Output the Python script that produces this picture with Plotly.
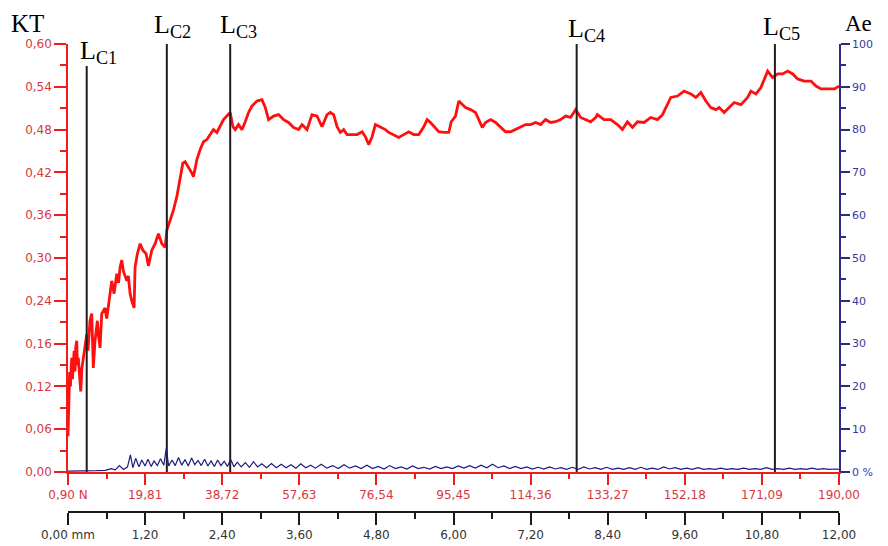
import plotly.graph_objects as go

# ---- data ----
kt_load = [0.9, 1.1, 1.3, 1.5, 1.81, 2.0, 2.2, 2.4, 2.62, 2.8, 3.04, 3.2, 3.43, 3.7, 4.02, 4.3, 4.66, 5.0,
           5.49, 5.8, 6.3, 6.72, 7.11, 7.53, 8.1, 8.4, 8.76, 9.18, 9.99, 10.4, 10.8, 11.21, 11.63, 12.2,
           12.86, 13.3, 13.67, 14.09, 14.48, 15.32, 15.7, 16.13, 16.54, 17.11, 17.35, 17.92, 18.58, 19.25,
           20.06, 20.62, 21.46, 22.27, 23.08, 23.91, 24.72, 25.14, 25.95, 26.76, 27.59, 28.41, 29.07, 29.63,
           30.44, 31.28, 31.67, 32.51, 33.32, 34.13, 34.96, 35.77, 36.58, 37.42, 38.23, 39.04, 39.87, 40.68,
           41.35, 41.91, 42.72, 43.56, 44.37, 45.18, 46.01, 47.24, 48.47, 49.28, 50.09, 51.32, 52.55, 53.77,
           55.0, 56.23, 57.46, 58.29, 59.52, 60.75, 61.98, 63.2, 64.43, 65.24, 66.05, 66.89, 67.7, 68.51,
           69.34, 70.57, 71.8, 73.03, 73.84, 74.65, 75.48, 76.29, 77.52, 78.75, 79.56, 80.79, 82.02, 83.24,
           84.47, 85.7, 86.93, 88.16, 88.99, 89.8, 91.03, 91.84, 93.07, 94.3, 94.89, 95.94, 96.75, 97.59,
           98.4, 99.63, 100.85, 101.66, 102.5, 103.31, 104.54, 105.76, 106.99, 108.22, 109.45, 110.68,
           111.9, 113.13, 114.36, 115.59, 116.82, 118.04, 119.27, 120.5, 121.73, 122.95, 124.18, 125.41,
           126.64, 127.87, 129.09, 130.32, 130.74, 132.36, 134.01, 135.65, 136.88, 138.11, 139.34, 140.57,
           142.19, 143.83, 145.48, 146.71, 147.52, 148.75, 150.39, 152.01, 153.66, 154.89, 156.12, 157.34,
           158.57, 159.8, 160.61, 161.84, 163.06, 164.29, 165.94, 167.58, 168.39, 169.62, 170.85, 171.66,
           172.5, 173.72, 174.95, 176.18, 177.41, 178.64, 179.86, 181.48, 183.13, 184.36, 185.59, 187.23,
           188.87, 190.0]
kt_value = [0.05, 0.09, 0.14, 0.12, 0.16, 0.13, 0.151, 0.17, 0.141, 0.175, 0.184, 0.15, 0.16, 0.13, 0.113,
            0.145, 0.16, 0.18, 0.193, 0.17, 0.212, 0.222, 0.146, 0.184, 0.212, 0.19, 0.174, 0.222, 0.23,
            0.215, 0.236, 0.25, 0.268, 0.25, 0.278, 0.265, 0.287, 0.297, 0.282, 0.268, 0.275, 0.25, 0.24,
            0.23, 0.287, 0.306, 0.32, 0.311, 0.306, 0.289, 0.311, 0.32, 0.334, 0.32, 0.315, 0.339, 0.353,
            0.367, 0.386, 0.41, 0.433, 0.435, 0.428, 0.419, 0.414, 0.438, 0.452, 0.463, 0.466, 0.473, 0.48,
            0.476, 0.484, 0.494, 0.499, 0.504, 0.484, 0.48, 0.487, 0.48, 0.491, 0.504, 0.513, 0.52, 0.522,
            0.511, 0.494, 0.499, 0.501, 0.494, 0.49, 0.483, 0.48, 0.487, 0.48, 0.501, 0.499, 0.484, 0.501,
            0.504, 0.501, 0.484, 0.476, 0.48, 0.473, 0.473, 0.473, 0.477, 0.47, 0.459, 0.47, 0.487, 0.483,
            0.48, 0.476, 0.473, 0.469, 0.473, 0.477, 0.473, 0.473, 0.484, 0.494, 0.49, 0.483, 0.477, 0.476,
            0.476, 0.491, 0.499, 0.52, 0.515, 0.511, 0.508, 0.504, 0.494, 0.483, 0.49, 0.494, 0.49, 0.483,
            0.477, 0.477, 0.48, 0.483, 0.487, 0.487, 0.49, 0.487, 0.494, 0.49, 0.491, 0.494, 0.499, 0.497,
            0.508, 0.497, 0.494, 0.491, 0.497, 0.501, 0.494, 0.494, 0.487, 0.48, 0.491, 0.483, 0.491, 0.49,
            0.497, 0.494, 0.501, 0.511, 0.525, 0.527, 0.534, 0.53, 0.525, 0.532, 0.52, 0.511, 0.508, 0.511,
            0.504, 0.511, 0.518, 0.515, 0.525, 0.534, 0.53, 0.539, 0.551, 0.562, 0.553, 0.558, 0.558, 0.562,
            0.558, 0.551, 0.548, 0.548, 0.541, 0.537, 0.537, 0.537, 0.541]

ae_load = [0.9, 5.0, 8.0, 10.0, 11.5, 12.5, 13.5, 14.5, 15.5, 16.2, 16.8, 17.5, 18.3, 19.0, 19.8, 20.5,
           21.3, 22.0, 22.8, 23.6, 24.4, 25.0, 25.6, 26.4, 27.2, 28.0, 28.8, 29.6, 30.4, 31.2, 32.0, 32.8,
           33.6, 34.4, 35.2, 36.0, 36.8, 37.6, 38.4, 39.2, 40.0, 40.8, 41.6, 42.4, 43.4, 44.4, 45.4, 46.4,
           47.4, 48.4, 49.6, 50.8, 52.0, 53.2, 54.4, 55.6, 56.8, 58.0, 59.2, 60.4, 61.6, 63.0, 64.4, 65.8,
           67.2, 68.6, 70.0, 71.4, 72.8, 74.2, 75.6, 77.0, 78.4, 79.8, 81.2, 82.6, 84.0, 85.4, 86.8, 88.2,
           89.6, 91.0, 92.4, 93.8, 95.2, 96.6, 98.0, 99.4, 100.8, 102.2, 103.6, 105.0, 106.4, 107.8, 109.2,
           110.6, 112.0, 113.4, 114.8, 116.2, 117.6, 119.0, 120.4, 121.8, 123.2, 124.6, 126.0, 127.4, 128.8,
           130.2, 131.6, 133.0, 134.4, 135.8, 137.2, 138.6, 140.0, 141.4, 142.8, 144.2, 145.6, 147.0, 148.4,
           149.8, 151.2, 152.6, 154.0, 155.4, 156.8, 158.2, 159.6, 161.0, 162.4, 163.8, 165.2, 166.6, 168.0,
           169.4, 170.8, 172.2, 173.6, 175.0, 176.4, 177.8, 179.2, 180.6, 182.0, 183.4, 184.8, 186.2, 187.6,
           189.0, 190.0]
ae_percent = [0.2, 0.2, 0.3, 0.4, 0.8, 0.5, 1.5, 0.6, 1.2, 4.0, 1.0, 3.2, 1.2, 2.8, 1.4, 3.0, 1.3, 2.6, 1.5,
              3.1, 1.6, 5.5, 1.4, 2.8, 1.5, 3.4, 1.6, 2.9, 1.4, 3.3, 1.7, 2.7, 1.5, 3.0, 1.4, 2.6, 1.3, 2.8,
              1.5, 2.5, 1.3, 2.9, 1.2, 2.3, 1.2, 2.2, 1.1, 2.4, 1.2, 1.9, 1.0, 2.0, 1.0, 1.8, 1.0, 1.7, 0.9,
              1.9, 1.0, 1.6, 0.9, 1.8, 0.9, 1.5, 0.8, 1.7, 0.9, 1.4, 0.8, 1.6, 0.8, 1.3, 0.7, 1.5, 0.8, 1.2,
              0.7, 1.4, 0.8, 1.1, 0.7, 1.3, 0.8, 1.2, 0.8, 1.4, 0.9, 1.5, 0.9, 1.6, 1.0, 1.8, 1.0, 1.4, 0.8,
              1.3, 0.8, 1.2, 0.7, 1.1, 0.7, 1.2, 0.7, 1.0, 0.6, 1.1, 0.6, 1.2, 0.7, 1.0, 0.6, 1.1, 0.6, 0.9,
              0.6, 1.0, 0.6, 1.1, 0.6, 0.9, 0.6, 1.2, 0.7, 1.0, 0.6, 0.9, 0.6, 1.0, 0.6, 0.8, 0.6, 0.9, 0.6,
              0.8, 0.6, 0.9, 0.6, 0.8, 0.6, 1.0, 0.6, 0.8, 0.6, 0.9, 0.6, 0.8, 0.6, 0.9, 0.6, 0.8, 0.6, 0.7,
              0.6]

lc_names = ["L<sub>C1</sub>", "L<sub>C2</sub>", "L<sub>C3</sub>", "L<sub>C4</sub>", "L<sub>C5</sub>"]
lc_load = [5.49, 25.14, 40.68, 125.66, 174.28]
lc_top = [0.569, 0.6, 0.6, 0.6, 0.6]

kt_ticks = [0.0, 0.06, 0.12, 0.18, 0.24, 0.30, 0.36, 0.42, 0.48, 0.54, 0.60]
kt_ticktext = ["0,00", "0,06", "0,12", "0,16", "0,24", "0,30", "0,36", "0,42", "0,48", "0,54", "0,60"]
ae_ticks = [0, 10, 20, 30, 40, 50, 60, 70, 80, 90, 100]
ae_ticktext = ["0 %", "10", "20", "30", "40", "50", "60", "70", "80", "90", "100"]
load_ticks = [0.9, 19.81, 38.72, 57.63, 76.54, 95.45, 114.36, 133.27, 152.18, 171.09, 190.0]
load_ticktext = ["0,90 N", "19,81", "38,72", "57,63", "76,54", "95,45", "114,36", "133,27", "152,18",
                 "171,09", "190,00"]
mm_ticks = [0.0, 1.2, 2.4, 3.6, 4.8, 6.0, 7.2, 8.4, 9.6, 10.8, 12.0]
mm_ticktext = ["0,00 mm", "1,20", "2,40", "3,60", "4,80", "6,00", "7,20", "8,40", "9,60", "10,80", "12,00"]

# ---- styling ----
RED = "#f01c1c"
RED_TXT = "#d8383e"
NAVY = "#2b2b86"
NAVY_TXT = "#3a3a9c"
OFF = 8                      # page body margin of the browser
W, H = 888 - OFF, 546 - OFF  # figure fills the window after the body margin
L, R, T, B = 68 - OFF, 49, 44 - OFF, 34
PH = H - T - B
PW = W - L - R


def ypaper(py):
    """window pixel row -> paper fraction"""
    return (H - B - (py - OFF)) / PH


def xpaper(px):
    """window pixel column -> paper fraction"""
    return (px - OFF - L) / PW


fig = go.Figure()
fig.add_trace(go.Scatter(x=ae_load, y=ae_percent, yaxis="y2", mode="lines",
                         line=dict(color="#1c1c7a", width=1.2), hoverinfo="skip"))
fig.add_trace(go.Scatter(x=kt_load, y=kt_value, mode="lines",
                         line=dict(color="#ff0f0f", width=2.8), hoverinfo="skip"))
vx, vy = [], []
for xv, top in zip(lc_load, lc_top):
    vx += [xv, xv, None]
    vy += [0, top, None]
fig.add_trace(go.Scatter(x=vx, y=vy, mode="lines", line=dict(color="#1e1e1e", width=2),
                         hoverinfo="skip"))
fig.add_trace(go.Scatter(x=[mm_ticks[0], mm_ticks[-1]], y=[0, 0], xaxis="x2", mode="lines",
                         line=dict(width=0), opacity=0, hoverinfo="skip"))

tickfont = dict(family="DejaVu Sans", size=12)
minor_load = [(a + b) / 2 for a, b in zip(load_ticks[:-1], load_ticks[1:])]
minor_mm = [(a + b) / 2 for a, b in zip(mm_ticks[:-1], mm_ticks[1:])]
minor_kt = [(a + b) / 2 for a, b in zip(kt_ticks[:-1], kt_ticks[1:])]
minor_ae = [(a + b) / 2 for a, b in zip(ae_ticks[:-1], ae_ticks[1:])]

ydom = [ypaper(472), 1]
fig.update_layout(
    template="none",
    width=W, height=H, margin=dict(l=L, r=R, t=T, b=B, autoexpand=False),
    paper_bgcolor="white", plot_bgcolor="white", showlegend=False,
    xaxis=dict(range=[load_ticks[0], load_ticks[-1]], anchor="y", showgrid=False, zeroline=False,
               automargin=False,
               showline=True, linecolor=RED, linewidth=1.5, ticks="outside", ticklen=11, tickwidth=1.5,
               tickcolor=RED, tickmode="array", tickvals=load_ticks, ticktext=load_ticktext,
               tickfont=dict(tickfont, color=RED_TXT), layer="below traces",
               minor=dict(tickmode="array", tickvals=minor_load, ticklen=5, tickwidth=1.5,
                          tickcolor=RED, showgrid=False)),
    xaxis2=dict(range=[mm_ticks[0], mm_ticks[-1]], overlaying="x", anchor="free", position=0,
                automargin=False,
                side="bottom", showgrid=False, zeroline=False, showline=True, linecolor="#1a1a1a",
                linewidth=1.5, ticks="outside", ticklen=12, tickwidth=1.5, tickcolor="#1a1a1a",
                tickmode="array", tickvals=mm_ticks, ticktext=mm_ticktext,
                tickfont=dict(tickfont, color="#333333"),
                minor=dict(tickmode="array", tickvals=minor_mm, ticklen=6, tickwidth=1.5,
                           tickcolor="#1a1a1a", showgrid=False)),
    yaxis=dict(range=[kt_ticks[0], kt_ticks[-1]], domain=ydom, showgrid=False, zeroline=False,
               automargin=False,
               showline=True, linecolor=RED, linewidth=1.5, ticks="outside", ticklen=12, tickwidth=1.5,
               tickcolor=RED, tickmode="array", tickvals=kt_ticks, ticktext=kt_ticktext,
               tickfont=dict(tickfont, color=RED_TXT),
               minor=dict(tickmode="array", tickvals=minor_kt, ticklen=6, tickwidth=1.5,
                          tickcolor=RED, showgrid=False)),
    yaxis2=dict(range=[ae_ticks[0], ae_ticks[-1]], domain=ydom, overlaying="y", side="right",
                automargin=False,
                anchor="x", showgrid=False, zeroline=False, showline=True, linecolor=NAVY, linewidth=1.5,
                ticks="outside", ticklen=9, tickwidth=1.5, tickcolor=NAVY, tickmode="array",
                tickvals=ae_ticks, ticktext=ae_ticktext, tickfont=dict(tickfont, size=11, color=NAVY_TXT),
                minor=dict(tickmode="array", tickvals=minor_ae, ticklen=5, tickwidth=1.5,
                           tickcolor=NAVY, showgrid=False)),
)

serif = dict(family="Liberation Serif", size=26, color="black")
anns = [
    dict(text="KT", xref="paper", yref="paper", x=xpaper(9), y=ypaper(24), xanchor="left",
         yanchor="middle", showarrow=False, font=dict(serif, size=25)),
    dict(text="Ae", xref="paper", yref="paper", x=xpaper(843), y=ypaper(24), xanchor="left",
         yanchor="middle", showarrow=False, font=dict(serif, size=23)),
]
lc_shift = [-9, -15, -12, -11, -14]
lc_py = [52, 26, 26, 30, 28]
for name, xv, sh, py in zip(lc_names, lc_load, lc_shift, lc_py):
    anns.append(dict(text=name, xref="x", yref="paper", x=xv, y=ypaper(py), xshift=sh,
                     xanchor="left", yanchor="middle", showarrow=False, font=serif))
fig.update_layout(annotations=anns)

fig.write_html("out.html")
